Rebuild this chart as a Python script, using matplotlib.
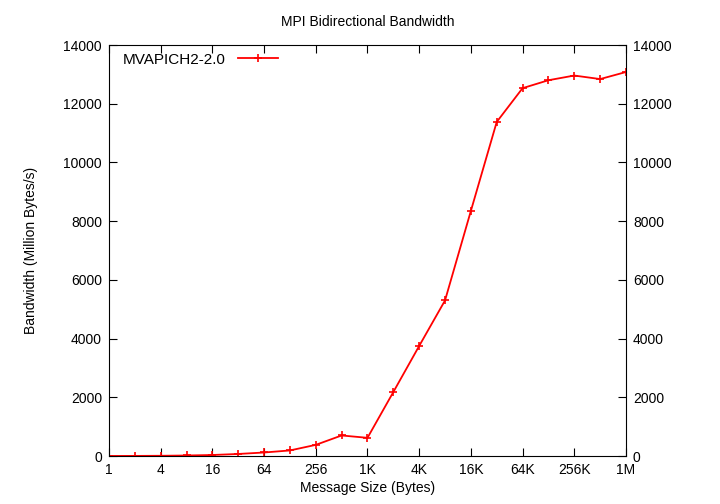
import matplotlib
matplotlib.use("Agg")
import matplotlib.pyplot as plt

# message sizes (bytes) and bidirectional bandwidth (MB/s)
sizes = [1, 2, 4, 8, 16, 32, 64, 128, 256, 512, 1024, 2048, 4096, 8192,
         16384, 32768, 65536, 131072, 262144, 524288, 1048576]
bandwidth = [2, 4, 8, 18, 35, 70, 120, 190, 380, 700, 620, 2180, 3750, 5300,
             8350, 11380, 12530, 12800, 12960, 12840, 13080]

tick_vals = [1, 4, 16, 64, 256, 1024, 4096, 16384, 65536, 262144, 1048576]
tick_labels = ["1", "4", "16", "64", "256", "1K", "4K", "16K", "64K", "256K", "1M"]
y_ticks = [0, 2000, 4000, 6000, 8000, 10000, 12000, 14000]

plt.rcParams['font.family'] = ['Liberation Sans', 'DejaVu Sans']
plt.rcParams['font.size'] = 10

fig = plt.figure(figsize=(7.2, 5.04), dpi=100)
ax = fig.add_axes([0.1514, 0.0952, 0.718, 0.8155])

ax.plot(sizes, bandwidth, color='red', marker='+', markersize=6,
        markeredgewidth=1.2, linewidth=1.3, label='MVAPICH2-2.0')

ax.set_xscale('log', base=2)
ax.set_xlim(1, 1048576)
ax.set_ylim(0, 14000)
ax.set_xticks(tick_vals)
ax.set_xticklabels(tick_labels)
ax.minorticks_off()
ax.set_yticks(y_ticks)
ax.tick_params(direction='in', length=6, top=True, right=True,
               labelright=True, pad=5, labelsize=10)

ax.set_xlabel('Message Size (Bytes)', labelpad=3)
ax.set_ylabel('Bandwidth (Million Bytes/s)', labelpad=18)
ax.set_title('MPI Bidirectional Bandwidth', fontsize=10, pad=14)

leg = ax.legend(loc='upper left', frameon=False, markerfirst=False,
                handlelength=2.6, borderaxespad=0.2, fontsize=11,
                borderpad=0.3, bbox_to_anchor=(0.012, 1.0))

fig.savefig('out.png', dpi=100)
